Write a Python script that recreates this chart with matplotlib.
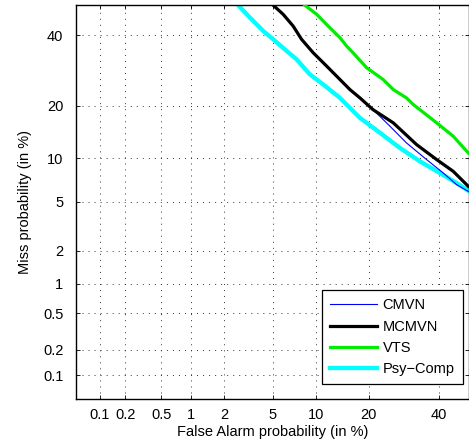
import math
import numpy as np
import matplotlib
matplotlib.use("Agg")
import matplotlib.pyplot as plt

# ---- data (percent) ----
cmvn_fa   = [5.04, 5.96, 7.02, 8.02, 9.56, 11.61, 13.93, 15.87, 17.97, 21.0,
             25.3, 29.9, 36.0, 41.3, 45.7, 49.6]
cmvn_miss = [49.9, 46.9, 43.0, 38.7, 34.5, 30.5, 26.7, 24.0, 21.9, 19.1,
             15.57, 12.48, 9.83, 8.04, 6.68, 5.98]

mcmvn_fa   = [5.04, 5.96, 7.02, 8.02, 9.56, 11.61, 13.93, 15.87, 17.97, 21.0,
              26.2, 32.9, 39.2, 44.6, 49.6]
mcmvn_miss = [49.9, 46.9, 43.0, 38.7, 34.5, 30.5, 26.7, 24.0, 21.9, 19.1,
              16.25, 12.19, 9.83, 8.24, 6.50]

vts_fa   = [8.44, 10.06, 11.87, 13.93, 15.2, 16.5, 19.5, 23.5, 26.2, 29.9,
            31.9, 39.2, 44.6, 49.6]
vts_miss = [49.9, 46.9, 43.0, 39.25, 36.6, 34.5, 30.0, 26.7, 24.0, 21.9,
            20.3, 16.25, 13.65, 10.83]

psy_fa   = [2.66, 3.32, 4.23, 5.04, 6.14, 7.41, 9.1, 11.06, 13.93, 17.97,
            22.7, 28.0, 33.9, 40.2, 45.7, 49.6]
psy_miss = [49.9, 45.8, 41.4, 38.7, 35.5, 32.5, 28.1, 25.35, 21.9, 17.3,
            14.3, 11.64, 9.59, 8.04, 6.86, 6.05]

tick_vals = [0.1, 0.2, 0.5, 1, 2, 5, 10, 20, 40]
tick_labels = ["0.1", "0.2", "0.5", "1", "2", "5", "10", "20", "40"]
names = ["CMVN", "MCMVN", "VTS", "Psy\u2212Comp"]

# ---- probit scale helpers ----
_erf = np.vectorize(math.erf)

def _ppf(p):
    p = np.asarray(p, dtype=float)
    a = [-3.969683028665376e+01, 2.209460984245205e+02, -2.759285104469687e+02,
         1.383577518672690e+02, -3.066479806614716e+01, 2.506628277459239e+00]
    b = [-5.447609879822406e+01, 1.615858368580409e+02, -1.556989798598866e+02,
         6.680131188771972e+01, -1.328068155288572e+01]
    c = [-7.784894002430293e-03, -3.223964580411365e-01, -2.400758277161838e+00,
         -2.549671010243082e+00, 4.374664141464968e+00, 2.938163982698783e+00]
    d = [7.784695709041462e-03, 3.224671290700398e-01, 2.445134137142996e+00,
         3.754408661907416e+00]
    plow = 0.02425
    x = np.zeros_like(p)
    lo = p < plow
    hi = p > 1 - plow
    mid = ~(lo | hi)
    q = np.sqrt(-2 * np.log(p[lo]))
    x[lo] = (((((c[0]*q+c[1])*q+c[2])*q+c[3])*q+c[4])*q+c[5]) / ((((d[0]*q+d[1])*q+d[2])*q+d[3])*q+1)
    q = p[mid] - 0.5
    r = q*q
    x[mid] = (((((a[0]*r+a[1])*r+a[2])*r+a[3])*r+a[4])*r+a[5])*q / (((((b[0]*r+b[1])*r+b[2])*r+b[3])*r+b[4])*r+1)
    q = np.sqrt(-2 * np.log(1 - p[hi]))
    x[hi] = -(((((c[0]*q+c[1])*q+c[2])*q+c[3])*q+c[4])*q+c[5]) / ((((d[0]*q+d[1])*q+d[2])*q+d[3])*q+1)
    return x

def fwd(v):
    v = np.clip(np.asarray(v, dtype=float), 1e-7, 100 - 1e-7)
    return _ppf(v / 100.0)

def inv(z):
    z = np.asarray(z, dtype=float)
    return 50.0 * (1 + _erf(z / math.sqrt(2)))

plt.rcParams['font.family'] = ['Liberation Sans', 'DejaVu Sans']
FS = 10.5

fig = plt.figure(figsize=(4.69, 4.41), dpi=100)
ax = fig.add_axes([0.162, 0.0952, 0.839, 0.8935])
ax.set_xscale('function', functions=(fwd, inv))
ax.set_yscale('function', functions=(fwd, inv))

l_psy, = ax.plot(psy_fa, psy_miss, color=(0, 1, 1), lw=3.1, label=names[3], zorder=2)
l_cm,  = ax.plot(cmvn_fa, cmvn_miss, color=(0, 0, 1), lw=0.8, label=names[0], zorder=3)
l_mc,  = ax.plot(mcmvn_fa, mcmvn_miss, color='black', lw=2.3, label=names[1], zorder=4)
l_vts, = ax.plot(vts_fa, vts_miss, color=(0, 0.93, 0), lw=2.3, label=names[2], zorder=4)

ax.set_xlim(0.05, 50)
ax.set_ylim(0.05, 50)
ax.set_xticks(tick_vals)
ax.set_xticklabels(tick_labels)
ax.set_yticks(tick_vals)
ax.set_yticklabels(tick_labels)
ax.minorticks_off()
ax.tick_params(direction='in', top=True, right=True, length=3, width=0.6,
               labelsize=FS)
ax.tick_params(axis='x', pad=6.2)
ax.tick_params(axis='y', pad=9.0)
ax.grid(True, color='#333333', linestyle=(0, (1, 5.2)), lw=0.7)
for s in ax.spines.values():
    s.set_linewidth(1.0)

ax.set_xlabel("False Alarm probability (in %)", fontsize=FS)
ax.set_ylabel("Miss probability (in %)", fontsize=FS)
ax.xaxis.set_label_coords(0.5, -0.0665)
ax.yaxis.set_label_coords(-0.113, 0.5)

leg = ax.legend(handles=[l_cm, l_mc, l_vts, l_psy], loc='lower right',
                bbox_to_anchor=(0.9827, 0.0373), fontsize=FS,
                fancybox=False, edgecolor='black', framealpha=1,
                handlelength=3.2, handletextpad=0.4, labelspacing=0.5,
                borderpad=0.55, borderaxespad=0)
leg.get_frame().set_linewidth(0.9)

fig.savefig("out.png", dpi=100)
